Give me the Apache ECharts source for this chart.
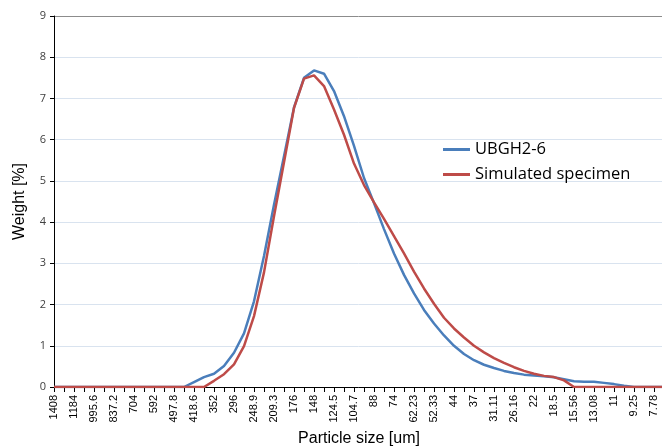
<!DOCTYPE html>
<html>
<head>
<meta charset="utf-8">
<script src="https://cdn.jsdelivr.net/npm/echarts@6/dist/echarts.min.js"></script>
<style>
  html, body { margin: 0; padding: 0; background: #fff; }
  #container { width: 662px; height: 448px; }
</style>
</head>
<body>
<div id="container"></div>
<script>
var sizes = ['1408', '1291', '1184', '1086', '995.6', '913', '837.2', '767.7', '704', '645.6',
    '592', '542.9', '497.8', '456.5', '418.6', '383.9', '352', '322.8', '296', '271.4',
    '248.9', '228.2', '209.3', '191.9', '176', '161.4', '148', '135.7', '124.5', '114.1',
    '104.7', '95.96', '88', '80.7', '74', '67.86', '62.23', '57.06', '52.33', '47.98',
    '44', '40.35', '37', '33.93', '31.11', '28.53', '26.16', '23.99', '22', '20.17',
    '18.5', '16.96', '15.56', '14.27', '13.08', '12', '11', '10.09', '9.25', '8.482',
    '7.78', '7.133'];

var ubgh = [0, 0, 0, 0, 0, 0, 0, 0, 0, 0,
    0, 0, 0, 0, 0.12, 0.24, 0.32, 0.51, 0.83, 1.3,
    2.08, 3.18, 4.42, 5.6, 6.78, 7.5, 7.68, 7.6, 7.18, 6.57,
    5.85, 5.07, 4.46, 3.83, 3.24, 2.72, 2.27, 1.87, 1.54, 1.25,
    1.0, 0.8, 0.65, 0.54, 0.46, 0.39, 0.34, 0.3, 0.28, 0.26,
    0.235, 0.19, 0.14, 0.13, 0.13, 0.1, 0.07, 0.03, 0, 0,
    0, 0];

var simulated = [0, 0, 0, 0, 0, 0, 0, 0, 0, 0,
    0, 0, 0, 0, 0, 0, 0.15, 0.31, 0.55, 0.99,
    1.72, 2.78, 4.14, 5.45, 6.77, 7.48, 7.56, 7.3, 6.73, 6.12,
    5.42, 4.9, 4.48, 4.08, 3.66, 3.24, 2.8, 2.39, 2.02, 1.68,
    1.42, 1.2, 1.0, 0.84, 0.7, 0.585, 0.48, 0.39, 0.32, 0.27,
    0.24, 0.16, 0, 0, 0, 0, 0, 0, 0, 0,
    0, 0];

var yTicks = [0, 1, 2, 3, 4, 5, 6, 7, 8, 9];

var chart = echarts.init(document.getElementById('container'));

var gridColors = yTicks.map(function (t) {
    return t === 9 ? '#8c8c8c' : '#d9e3ef';
});

var option = {
    animation: false,
    backgroundColor: '#fff',
    grid: {
        left: 54,
        right: -2,
        top: 16,
        bottom: 61,
        containLabel: false,
        outerBoundsMode: 'none'
    },
    legend: {
        orient: 'vertical',
        left: 443,
        top: 141,
        padding: 0,
        itemWidth: 27,
        itemHeight: 3,
        itemGap: 8,
        itemTextGap: 1,
        icon: 'rect',
        textStyle: {
            fontFamily: 'Open Sans, sans-serif',
            fontSize: 16.5,
            color: '#000'
        },
        data: ['UBGH2-6', 'Simulated specimen']
    },
    xAxis: {
        type: 'category',
        boundaryGap: false,
        data: sizes,
        name: 'Particle size [um]',
        nameLocation: 'middle',
        nameGap: 44,
        nameTextStyle: {
            fontFamily: 'Liberation Sans, Arial, sans-serif',
            fontSize: 16,
            color: '#000'
        },
        axisLine: { lineStyle: { color: '#000', width: 1 } },
        axisTick: {
            show: true,
            interval: 0,
            length: 5,
            lineStyle: { color: '#000' }
        },
        axisLabel: {
            interval: 1,
            rotate: 90,
            fontSize: 11,
            fontFamily: 'Liberation Sans, Arial, sans-serif',
            color: '#000',
            margin: 8
        },
        splitLine: { show: false }
    },
    yAxis: {
        type: 'value',
        min: 0,
        max: 9,
        interval: 1,
        name: 'Weight [%]',
        nameLocation: 'middle',
        nameGap: 26,
        nameTextStyle: {
            fontFamily: 'Liberation Sans, Arial, sans-serif',
            fontSize: 16,
            color: '#000'
        },
        axisLine: { show: true, lineStyle: { color: '#000', width: 1 } },
        axisTick: { show: true, length: 4, lineStyle: { color: '#000' } },
        axisLabel: {
            fontSize: 11,
            fontFamily: 'Open Sans, sans-serif',
            color: '#404040',
            margin: 8
        },
        splitLine: {
            show: true,
            lineStyle: { color: gridColors, width: 1 }
        }
    },
    series: [
        {
            name: 'UBGH2-6',
            type: 'line',
            data: ubgh,
            symbol: 'none',
            smooth: false,
            lineStyle: { color: '#4a7ebb', width: 2.5 },
            itemStyle: { color: '#4a7ebb' }
        },
        {
            name: 'Simulated specimen',
            type: 'line',
            data: simulated,
            symbol: 'none',
            smooth: false,
            lineStyle: { color: '#be4b48', width: 2.5 },
            itemStyle: { color: '#be4b48' }
        }
    ]
};

chart.setOption(option);
</script>
</body>
</html>
